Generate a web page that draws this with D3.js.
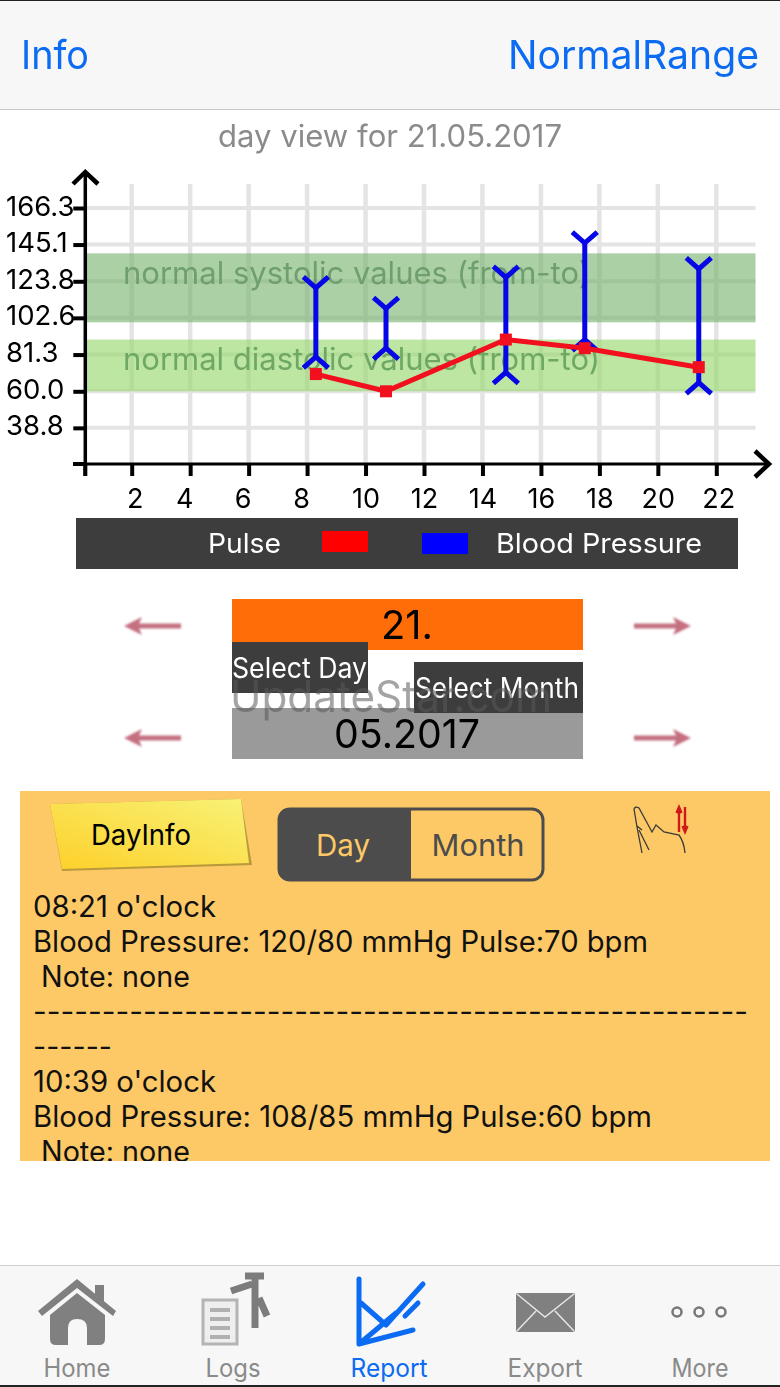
<!DOCTYPE html>
<html><head><meta charset="utf-8">
<script src="https://cdn.jsdelivr.net/npm/d3@7"></script>
<style>html,body{margin:0;padding:0;background:#fff}svg{display:block;filter:blur(0.35px)}text{font-family:Inter,Roboto,sans-serif}</style>
</head><body><svg id="c" width="780" height="1387" viewBox="0 0 780 1387"></svg>
<script>
const yTicks=[38.8,60.0,81.3,102.6,123.8,145.1,166.3];
const xTicks=[2,4,6,8,10,12,14,16,18,20,22];
const hours=[8.3,10.7,14.8,17.5,21.4];
const systolic=[120,108,126,146,131];
const diastolic=[80,85,71,90,65];
const pulse=[70,60,90,85,74];
const normalSystolic=[100,140];
const normalDiastolic=[60,90];
const logLines=["08:21 o'clock","Blood Pressure: 120/80 mmHg Pulse:70 bpm"," Note: none","----------------------------------------------------","------","10:39 o'clock","Blood Pressure: 108/85 mmHg Pulse:60 bpm"," Note: none"];
const logWidths=[183,615,149,715,79,183,619,149];
const tabLabels=["Home","Logs","Report","Export","More"];
const tabWidths=[67,55,77,75,57];

const svg=d3.select("#c");
const BLUE="#0b6bf2",DARK="#3d3d3d";
const T=(g,s,x,y,size,fill,anchor,len)=>{const t=g.append("text").text(s).attr("x",x).attr("y",y).attr("font-size",size).attr("fill",fill).attr("text-anchor",anchor||"start");if(len)t.attr("textLength",len).attr("lengthAdjust","spacingAndGlyphs");return t;};
const R=(g,x,y,w,h,fill)=>g.append("rect").attr("x",x).attr("y",y).attr("width",w).attr("height",h).attr("fill",fill);

// header
R(svg,0,0,780,1,"#222");
R(svg,0,1,780,108,"#f7f7f7");R(svg,0,109,780,1,"#c9c9c9");
T(svg,"Info",21,69,39,BLUE,"start",68);
T(svg,"NormalRange",759,69,39,BLUE,"end",251);
T(svg,"day view for 21.05.2017",390,147,31,"#8b8b8b","middle",344);

// chart
const x=d3.scaleLinear().domain([2,22]).range([131.7,716.3]);
const y=d3.scaleLinear().domain([60,166.3]).range([391.3,208]);
const left=85.3,right=755.5,base=464,gridTop=184;
const chart=svg.append("g");
chart.selectAll(".gy").data(yTicks).join("line").attr("x1",left).attr("x2",right).attr("y1",d=>y(d)).attr("y2",d=>y(d)).attr("stroke","#e4e4e4").attr("stroke-width",4);
chart.selectAll(".gx").data(xTicks).join("line").attr("x1",d=>x(d)).attr("x2",d=>x(d)).attr("y1",gridTop).attr("y2",base).attr("stroke","#e4e4e4").attr("stroke-width",4.5);
const band=(v,c)=>chart.append("rect").attr("x",left).attr("width",right-left).attr("y",y(v[1])).attr("height",y(v[0])-y(v[1])).attr("fill",c);
band(normalSystolic,"rgba(112,174,100,.58)");
band(normalDiastolic,"rgba(150,216,110,.64)");
T(chart,"normal systolic values (from-to)",123,284,31,"#6f9f6d","start",467);
T(chart,"normal diastolic values (from-to)",123,370,31,"#6fa865","start",477);

// axes
const ax=chart.append("g").attr("transform",`translate(0,${base})`).call(d3.axisBottom(x).tickValues(xTicks).tickSize(12).tickSizeOuter(0).tickFormat(d=>d));
ax.select(".domain").remove();
ax.selectAll("line").attr("stroke","#000").attr("stroke-width",4);
const xNudge=d=>d===2?3:(d<10?-6:(d===22?2:0));
ax.selectAll("text").attr("font-size",27).attr("fill","#000").attr("dy",0).attr("y",44).attr("dx",d=>xNudge(d)).style("font-family","Inter");
const ay=chart.append("g").attr("transform",`translate(${left},0)`).call(d3.axisLeft(y).tickValues(yTicks).tickSize(12).tickSizeOuter(0).tickFormat(d3.format(".1f")));
ay.select(".domain").remove();
ay.selectAll("line").attr("stroke","#000").attr("stroke-width",4);
ay.selectAll("text").attr("font-size",27.5).attr("fill","#000").attr("text-anchor","start").attr("x",6-left).attr("dy",0).attr("y",7).style("font-family","Inter");
const line=(a,b,c,d,w,col)=>chart.append("line").attr("x1",a).attr("y1",b).attr("x2",c).attr("y2",d).attr("stroke",col||"#000").attr("stroke-width",w||3);
line(left,base,767,base,3);line(left,base+12,left,172,3.5);
line(left,base,left,base+12,4);line(73,base,left,base,4);
chart.append("path").attr("d","M73,184 L85.3,172 L98,184").attr("fill","none").attr("stroke","#000").attr("stroke-width",4.5);
chart.append("path").attr("d","M755,451 L769,464 L755,477").attr("fill","none").attr("stroke","#000").attr("stroke-width",4.5);

// blood pressure bars
const bp=chart.append("g").attr("stroke","#0606e6").attr("fill","none").attr("stroke-width",5);
hours.forEach((h,i)=>{
  const cx=x(h),t=y(systolic[i]),b=y(diastolic[i]);
  bp.append("line").attr("x1",cx).attr("x2",cx).attr("y1",t).attr("y2",b);
  bp.append("path").attr("d",`M${cx-12.5},${t-11}L${cx},${t}L${cx+12.5},${t-11}`);
  bp.append("path").attr("d",`M${cx-12.5},${b+11}L${cx},${b}L${cx+12.5},${b+11}`);
});
// pulse
const pulsePts=hours.map((h,i)=>[x(h),y(pulse[i])]);
chart.append("path").attr("d",d3.line()(pulsePts)).attr("fill","none").attr("stroke","#f20f1e").attr("stroke-width",5);
chart.selectAll(".pm").data(pulsePts).join("rect").attr("x",d=>d[0]-6).attr("y",d=>d[1]-6).attr("width",12).attr("height",12).attr("fill","#f20f1e");

// legend
R(svg,76,518,662,51,DARK);
T(svg,"Pulse",208,553,27.5,"#fff","start",73);
R(svg,322,531,46,21,"#ff0000");
R(svg,422,533,46,21,"#0000ff");
T(svg,"Blood Pressure",496,553,27.5,"#fff","start",206);

// selectors
R(svg,232,599,351,51,"#ff6d09");
R(svg,232,708,351,51,"#9a9a9a");
T(svg,"21.",407,639,40,"#000","middle",52);
T(svg,"05.2017",407,748,39.5,"#000","middle",146);
R(svg,232,642,136,51,DARK);
R(svg,414,662,169,51,DARK);
T(svg,"Select Day",232,678,28,"#fff","start",135);
T(svg,"Select Month",415,698,28,"#fff","start",164);
T(svg,"UpdateStar.com",230,712,44,"#5a5a5a","start",322).attr("opacity",.55);
const defs=svg.append("defs");
defs.append("filter").attr("id","soft").append("feGaussianBlur").attr("stdDeviation",.9);
const grad=defs.append("linearGradient").attr("id","note").attr("x1","0").attr("y1","1").attr("x2","1").attr("y2","0");
grad.append("stop").attr("offset","0").attr("stop-color","#fdd02a");grad.append("stop").attr("offset","1").attr("stop-color","#f8f276");
const arrow=(cx,cy,dir)=>{const g=svg.append("g").attr("transform",`translate(${cx},${cy}) scale(${dir},1)`).attr("filter","url(#soft)");
  g.append("path").attr("d","M-16,0H28").attr("stroke","#c4707f").attr("stroke-width",5);
  g.append("path").attr("d","M-29,0L-11,-9L-15,0L-11,9Z").attr("fill","#c4707f");};
[[153,626,1],[662,626,-1],[153,738,1],[662,738,-1]].forEach(a=>arrow(...a));

// info panel
R(svg,20,791,750,370,"#fdc966");
svg.append("polygon").attr("points","50,804 241,799 252,865 62,871").attr("fill","#b89a3c");
svg.append("polygon").attr("points","50,804 241,799 249,863 62,869").attr("fill","url(#note)");
T(svg,"DayInfo",141,845,29,"#000","middle",100);
svg.append("rect").attr("x",279).attr("y",809).attr("width",264).attr("height",71).attr("rx",11).attr("fill","none").attr("stroke","#4c4c4c").attr("stroke-width",3);
svg.append("path").attr("d","M411,808H289a11,11 0 0 0 -11,11V870a11,11 0 0 0 11,11H411Z").attr("fill","#4c4c4c");
T(svg,"Day",343,856,30,"#fdc966","middle",54);
T(svg,"Month",478,856,30,"#4c4c4c","middle",93);
// hand icon
const hand=svg.append("g").attr("fill","none").attr("stroke","#3a3a3a").attr("stroke-width",1.3);
hand.append("path").attr("d","M634,809Q635,806 639,808L652,832L656,825L664,832L679,835Q684,842 685,853");
hand.append("path").attr("d","M634,809L637,827L642,853M639,830L649,850M637,826L642,830");
svg.append("path").attr("d","M679,832V810M676.5,813L679,807L681.5,813M685,807V829M682.5,826L685,832L687.5,826").attr("stroke","#d01a1a").attr("stroke-width",2.4).attr("fill","none");

const clip=defs.append("clipPath").attr("id","pc");clip.append("rect").attr("x",20).attr("y",791).attr("width",750).attr("height",370);
const log=svg.append("g").attr("clip-path","url(#pc)");
logLines.forEach((s,i)=>{const lead=s.startsWith(" ");T(log,s.trim(),lead?41:33,917+35*i,29.2,"#111","start",logWidths[i]);});

// tab bar
R(svg,0,1265,780,1,"#cfcfcf");R(svg,0,1266,780,119,"#f7f7f7");R(svg,0,1385,780,2,"#222");
const tabX=[77,233,389,545,700];
tabLabels.forEach((s,i)=>T(svg,s,tabX[i],1377,25,i===2?BLUE:"#8a8a8a","middle",tabWidths[i]));
const G="#808080";
// home
svg.append("path").attr("d","M38,1311L77,1279L116,1311L113,1316L77,1288L42,1316Z").attr("fill",G);
svg.append("path").attr("d","M50,1315L77,1293L105,1315V1339Q105,1345 99,1345H87V1328Q87,1319 77,1319Q68,1319 68,1328V1345H56Q50,1345 50,1339Z").attr("fill",G);
R(svg,95,1285,9,16,G);
// logs
svg.append("rect").attr("x",203).attr("y",1300).attr("width",34).attr("height",44).attr("fill","#eee").attr("stroke","#b4b4b4").attr("stroke-width",3);
[1308,1317,1326,1335].forEach(v=>R(svg,210,v,20,4,"#b0b0b0"));
svg.append("path").attr("d","M245,1276H264M255,1276V1328M231,1291L252,1284M259,1298L267,1316").attr("stroke","#7c7c7c").attr("stroke-width",7).attr("fill","none");
// report
svg.append("path").attr("d","M359,1279V1344L413,1330M359,1344L396,1313M361,1303L386,1325L423,1284M405,1316L418,1303").attr("stroke",BLUE).attr("stroke-width",5).attr("fill","none").attr("stroke-linecap","round").attr("stroke-linejoin","round");
// export
svg.append("rect").attr("x",516).attr("y",1293).attr("width",59).attr("height",39).attr("rx",2).attr("fill",G);
svg.append("path").attr("d","M517,1294L545,1317L574,1294M517,1331L536,1311M574,1331L555,1311").attr("stroke","#e6e6e6").attr("stroke-width",1.5).attr("fill","none");
// more
[677,699,721].forEach(cx=>svg.append("circle").attr("cx",cx).attr("cy",1312).attr("r",4.5).attr("fill","none").attr("stroke","#777").attr("stroke-width",2.5));
</script></body></html>
